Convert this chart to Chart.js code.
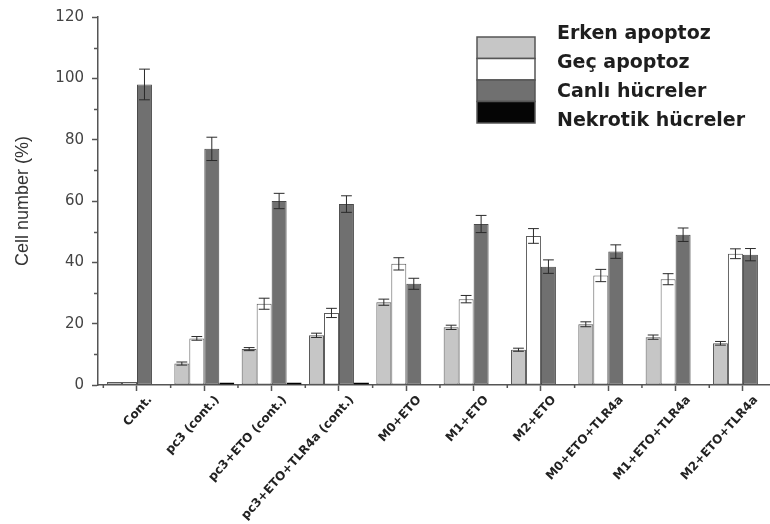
<!DOCTYPE html>
<html>
<head>
<meta charset="utf-8">
<script src="https://cdn.jsdelivr.net/npm/chart.js@4/dist/chart.umd.min.js"></script>
<style>
  html, body { margin: 0; padding: 0; background: #fff; overflow: hidden; }
  #wrap { width: 770px; height: 524px; }
</style>
</head>
<body>
<div id="wrap"><canvas id="c" width="770" height="524"></canvas></div>
<script>
// Groups along the x axis
const categories = ['Cont.', 'pc3 (cont.)', 'pc3+ETO (cont.)', 'pc3+ETO+TLR4a (cont.)',
  'M0+ETO', 'M1+ETO', 'M2+ETO', 'M0+ETO+TLR4a', 'M1+ETO+TLR4a', 'M2+ETO+TLR4a'];

// Series names
const seriesNames = ['Erken apoptoz', 'Geç apoptoz', 'Canlı hücreler', 'Nekrotik hücreler'];

// Percent of cells per group, with standard deviation
const erken    = [1, 7, 11.7, 16.2, 27, 18.8, 11.5, 19.8, 15.6, 13.6];
const erkenErr = [0, 0.5, 0.5, 0.7, 1, 0.7, 0.5, 0.8, 0.7, 0.6];
const gec      = [1, 15.2, 26.5, 23.5, 39.5, 28, 48.6, 35.7, 34.5, 42.8];
const gecErr   = [0, 0.6, 1.8, 1.5, 2, 1.2, 2.4, 2, 1.8, 1.6];
const canli    = [98, 77, 60, 59, 33, 52.5, 38.6, 43.5, 49, 42.5];
const canliErr = [5, 3.8, 2.5, 2.7, 1.8, 2.8, 2.2, 2.2, 2.2, 2];
const nekrotik = [0, 0.8, 0.8, 0.8, 0, 0, 0, 0, 0, 0];

// Y axis ticks
const yTicks = [0, 20, 40, 60, 80, 100, 120];

const fills = ['#c6c6c6', '#ffffff', '#707070', '#050505'];
const AXIS = '#555';

const toPoints = arr => arr.map((v, i) => ({ x: i, y: v }));

function makeSet(label, values, errs, color, border) {
  return {
    label,
    data: toPoints(values),
    errors: errs,
    backgroundColor: color,
    borderColor: border,
    borderWidth: 1,
    borderSkipped: false,
    categoryPercentage: 0.89,
    barPercentage: 1.0
  };
}

// Draws +/- error bars on top of every bar
const errorBars = {
  id: 'errorBars',
  afterDatasetsDraw(chart) {
    const ctx = chart.ctx;
    const y = chart.scales.y;
    ctx.save();
    ctx.strokeStyle = '#2a2a2a';
    ctx.lineWidth = 1;
    chart.data.datasets.forEach((ds, di) => {
      if (!ds.errors) return;
      const meta = chart.getDatasetMeta(di);
      meta.data.forEach((bar, i) => {
        const e = ds.errors[i];
        if (!e) return;
        const v = ds.data[i].y;
        const top = y.getPixelForValue(v + e);
        const bot = y.getPixelForValue(v - e);
        const half = bar.width * 0.36;
        ctx.beginPath();
        ctx.moveTo(bar.x, top); ctx.lineTo(bar.x, bot);
        ctx.moveTo(bar.x - half, top); ctx.lineTo(bar.x + half, top);
        ctx.moveTo(bar.x - half, bot); ctx.lineTo(bar.x + half, bot);
        ctx.stroke();
      });
    });
    ctx.restore();
  }
};

// Minor ticks on both axes
const minorTicks = {
  id: 'minorTicks',
  afterDraw(chart) {
    const ctx = chart.ctx;
    const { x, y } = chart.scales;
    const area = chart.chartArea;
    ctx.save();
    ctx.strokeStyle = AXIS;
    ctx.lineWidth = 1.5;
    ctx.beginPath();
    for (let v = 10; v < 120; v += 20) {
      const py = Math.round(y.getPixelForValue(v)) + 0.5;
      ctx.moveTo(area.left - 4, py); ctx.lineTo(area.left, py);
    }
    for (let i = -1; i < categories.length; i++) {
      const px = x.getPixelForValue(i + 0.5);
      if (px <= area.left || px >= area.right) continue;
      ctx.moveTo(px, area.bottom); ctx.lineTo(px, area.bottom + 3);
    }
    ctx.stroke();
    ctx.restore();
  }
};

// Stacked-swatch legend in the upper right
const swatchLegend = {
  id: 'swatchLegend',
  afterDraw(chart) {
    const ctx = chart.ctx;
    const bx = 477, bw = 58, by = 37, bh = 21.5;
    const tx = 557, ty0 = 34, tStep = 29;
    ctx.save();
    chart.data.datasets.forEach((ds, i) => {
      ctx.fillStyle = ds.backgroundColor;
      ctx.fillRect(bx, by + i * bh, bw, bh);
      ctx.strokeStyle = '#555';
      ctx.lineWidth = 1.5;
      ctx.strokeRect(bx, by + i * bh, bw, bh);
    });
    ctx.fillStyle = '#1e1e1e';
    ctx.font = 'bold 19px "DejaVu Sans"';
    ctx.textAlign = 'left';
    ctx.textBaseline = 'middle';
    chart.data.datasets.forEach((ds, i) => {
      ctx.fillText(ds.label, tx, ty0 + i * tStep);
    });
    ctx.restore();
  }
};

new Chart(document.getElementById('c'), {
  type: 'bar',
  data: {
    datasets: [
      makeSet(seriesNames[0], erken, erkenErr, fills[0], '#5a5a5a'),
      makeSet(seriesNames[1], gec, gecErr, fills[1], '#5a5a5a'),
      makeSet(seriesNames[2], canli, canliErr, fills[2], '#4a4a4a'),
      makeSet(seriesNames[3], nekrotik, null, fills[3], '#000')
    ]
  },
  options: {
    responsive: false,
    animation: false,
    layout: { padding: { top: 15, right: 0, left: 0, bottom: 0 } },
    plugins: { legend: { display: false }, tooltip: { enabled: false } },
    scales: {
      x: {
        type: 'linear',
        offset: false,
        min: -0.579,
        max: 9.402,
        afterFit(s) { s.height = 139; },
        afterBuildTicks(s) { s.ticks = categories.map((_, i) => ({ value: i })); },
        grid: { offset: false, drawOnChartArea: false, drawTicks: true, tickLength: 6, tickColor: AXIS, tickWidth: 1.5 },
        border: { display: true, color: AXIS, width: 1.5 },
        ticks: {
          autoSkip: false,
          minRotation: 48,
          maxRotation: 48,
          labelOffset: 13,
          padding: 2,
          color: '#222',
          font: { family: '"DejaVu Sans"', size: 12, weight: 'bold' },
          callback: v => categories[v] ?? ''
        }
      },
      y: {
        min: 0,
        max: 120,
        afterFit(s) { s.width = 98; },
        afterBuildTicks(s) { s.ticks = yTicks.map(v => ({ value: v })); },
        grid: { drawOnChartArea: false, drawTicks: true, tickLength: 6, tickColor: AXIS, tickWidth: 1.5 },
        border: { display: true, color: AXIS, width: 1.5 },
        ticks: {
          padding: 8,
          color: '#444',
          font: { family: '"DejaVu Sans"', size: 15 }
        },
        title: {
          display: true,
          text: 'Cell number (%)',
          color: '#333',
          padding: { top: 12, bottom: 0 },
          font: { family: '"Liberation Sans"', size: 18 }
        }
      }
    }
  },
  plugins: [errorBars, minorTicks, swatchLegend]
});
</script>
</body>
</html>
